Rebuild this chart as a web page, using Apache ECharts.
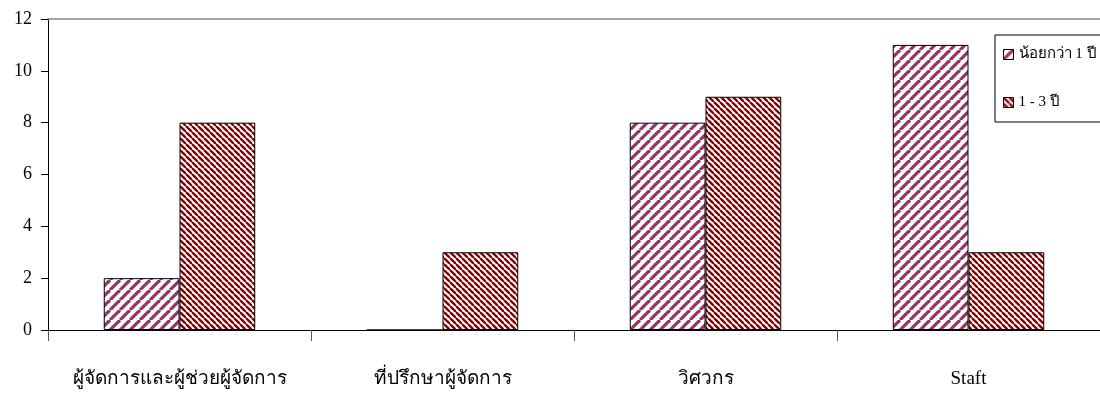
<!DOCTYPE html>
<html><head><meta charset="utf-8">
<script src="https://cdn.jsdelivr.net/npm/echarts@6/dist/echarts.min.js"></script>
<style>html,body{margin:0;padding:0;background:#fff}#c{width:1100px;height:403px}</style>
</head><body><div id="c"></div>
<script>
const categories = ['ผู้จัดการและผู้ช่วยผู้จัดการ', 'ที่ปรึกษาผู้จัดการ', 'วิศวกร', 'Staft'];
const seriesNames = ['น้อยกว่า 1 ปี', '1 - 3 ปี'];
const lessThan1 = [2, 0, 8, 11];
const oneToThree = [8, 3, 9, 3];
const yTicks = [0, 2, 4, 6, 8, 10, 12];

function stripes(period, color, width, dir) {
  const c = document.createElement('canvas');
  c.width = period; c.height = period;
  const g = c.getContext('2d');
  g.fillStyle = '#fff'; g.fillRect(0, 0, period, period);
  g.strokeStyle = color; g.lineWidth = width;
  for (let k = -1; k <= 1; k++) {
    g.beginPath();
    if (dir > 0) { g.moveTo(k * period, period); g.lineTo(k * period + period, 0); }
    else { g.moveTo(k * period, 0); g.lineTo(k * period + period, period); }
    g.stroke();
  }
  return { image: c, repeat: 'repeat' };
}
const pat1 = stripes(10, '#993366', 3.2, 1);
const pat2 = stripes(6, '#8b0000', 2.4, -1);
const font = '"Liberation Serif", "Times New Roman", serif';

const chart = echarts.init(document.getElementById('c'));
chart.setOption({
  animation: false,
  textStyle: { fontFamily: font },
  grid: { left: 48, right: -4, top: 19, bottom: 73 },
  legend: {
    orient: 'vertical', left: 995, top: 35,
    padding: [12, 8, 12, 8], itemGap: 33,
    borderColor: '#000', borderWidth: 1,
    icon: 'rect', itemWidth: 10, itemHeight: 10,
    itemStyle: { borderColor: '#000', borderWidth: 1 },
    textStyle: { fontFamily: font, fontSize: 15, color: '#000' },
    data: seriesNames
  },
  xAxis: [{
    type: 'category', data: categories,
    axisLine: { lineStyle: { color: '#000', width: 1 } },
    axisTick: { show: true, length: 11, lineStyle: { color: '#555' } },
    axisLabel: { interval: 0, margin: 40, fontSize: 19, color: '#000', fontFamily: font }
  }, {
    type: 'category', data: categories, position: 'top',
    axisLine: { lineStyle: { color: '#888', width: 1.5 } },
    axisTick: { show: false }, axisLabel: { show: false }
  }],
  yAxis: {
    type: 'value', min: yTicks[0], max: yTicks[yTicks.length - 1], interval: 2,
    axisLine: { show: true, lineStyle: { color: '#000' } },
    axisTick: { show: true, length: 7, lineStyle: { color: '#000' } },
    splitLine: { show: false },
    axisLabel: { margin: 16, fontSize: 18, color: '#000', fontFamily: font }
  },
  series: [{
    name: seriesNames[0], type: 'bar', data: lessThan1,
    barGap: '0%', barCategoryGap: '42.4%',
    itemStyle: { color: pat1, borderColor: '#000', borderWidth: 1 }
  }, {
    name: seriesNames[1], type: 'bar', data: oneToThree,
    barGap: '0%', barCategoryGap: '42.4%',
    itemStyle: { color: pat2, borderColor: '#000', borderWidth: 1 }
  }]
});
</script></body></html>
